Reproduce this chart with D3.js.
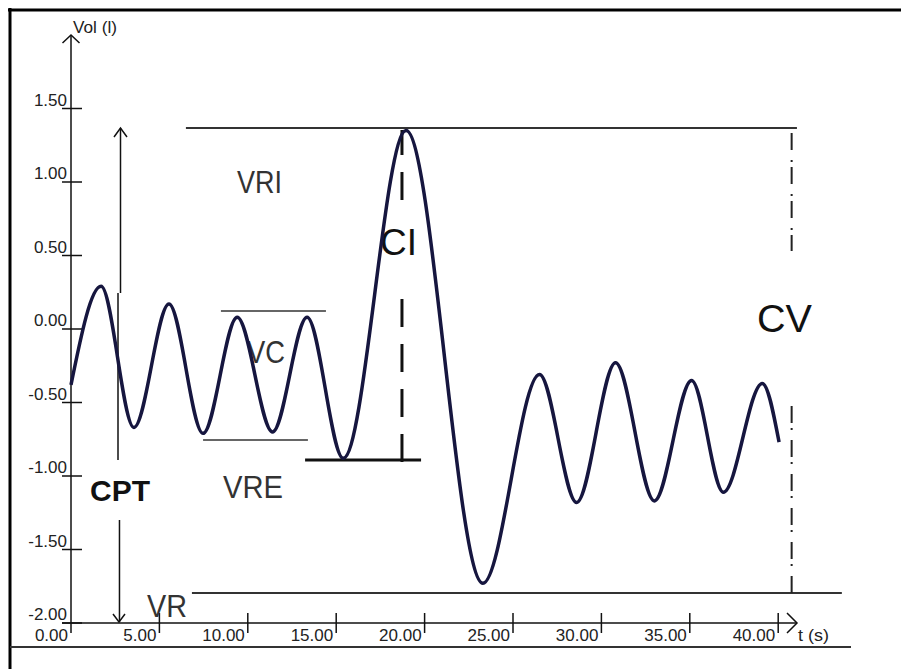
<!DOCTYPE html>
<html>
<head>
<meta charset="utf-8">
<script src="https://cdn.jsdelivr.net/npm/d3@7"></script>
<style>
  body { margin: 0; background: #fff; }
  svg { display: block; font-family: "Liberation Sans", Arial, sans-serif; }
</style>
</head>
<body>
<div id="chart"></div>
<script>
// volume trace (turning points of the wave)
const timeVals = [0, 1.7, 3.56, 5.54, 7.47, 9.4, 11.4, 13.35, 15.4, 18.95, 23.3, 26.5, 28.6, 30.8, 33.0, 35.1, 36.9, 39.1, 40.05];
const volVals  = [-0.38, 0.29, -0.67, 0.17, -0.71, 0.08, -0.70, 0.08, -0.88, 1.35, -1.73, -0.31, -1.18, -0.23, -1.17, -0.35, -1.11, -0.37, -0.77];

const xTicks = [0, 5, 10, 15, 20, 25, 30, 35, 40];
const yTicks = [1.5, 1.0, 0.5, 0.0, -0.5, -1.0, -1.5, -2.0];

// annotation levels (litres) and spans (seconds)
const levelVRI = 1.367, levelVR = -1.796, levelVC = 0.122, levelVRE = -0.755, levelCI = -0.891;
const tCPT = 2.77, tCI = 18.72, tCV = 40.76;

const width = 901, height = 669;
const svg = d3.select("#chart").append("svg")
    .attr("width", width)
    .attr("height", height);

// scales
const x = d3.scaleLinear().domain([0, 40]).range([71, 778.2]);
const y = d3.scaleLinear().domain([-2, 1.5]).range([623, 108.5]);

// frame
svg.append("line").attr("x1", 8).attr("x2", 901).attr("y1", 10).attr("y2", 10)
    .attr("stroke", "#000").attr("stroke-width", 3);
svg.append("line").attr("x1", 10).attr("x2", 10).attr("y1", 8).attr("y2", 669)
    .attr("stroke", "#000").attr("stroke-width", 3);
svg.append("line").attr("x1", 10).attr("x2", 851).attr("y1", 647).attr("y2", 647)
    .attr("stroke", "#333").attr("stroke-width", 2);

// axes (drawn by hand to mimic the old plotting program)
let axes = svg.append("g").attr("stroke", "#111").attr("stroke-width", 1.5).attr("fill", "none");
axes.append("line").attr("x1", x(0)).attr("x2", x(0)).attr("y1", 35).attr("y2", 633);
axes.append("path").attr("d", `M${x(0) - 8.5},43 L${x(0)},35 L${x(0) + 8.5},43`);
axes.append("line").attr("x1", 62).attr("x2", 797).attr("y1", y(-2)).attr("y2", y(-2));
axes.append("path").attr("d", `M787,${y(-2) - 10} L797,${y(-2)} L787,${y(-2) + 10}`);

axes.selectAll(".ytick").data(yTicks).enter().append("line")
    .attr("class", "ytick")
    .attr("x1", x(0) - 9).attr("x2", x(0) + 11)
    .attr("y1", d => y(d)).attr("y2", d => y(d));
axes.selectAll(".xtick").data(xTicks.slice(1)).enter().append("line")
    .attr("class", "xtick")
    .attr("x1", d => x(d)).attr("x2", d => x(d))
    .attr("y1", y(-2) - 10).attr("y2", y(-2) + 10);

svg.selectAll(".ylab").data(yTicks).enter().append("text")
    .attr("class", "ylab")
    .attr("x", 67).attr("y", d => y(d) - 3)
    .attr("text-anchor", "end")
    .style("font-size", "17px").attr("fill", "#222")
    .text(d => d.toFixed(2));
svg.selectAll(".xlab").data(xTicks).enter().append("text")
    .attr("class", "xlab")
    .attr("x", d => x(d) - 3).attr("y", 641)
    .attr("text-anchor", "end")
    .style("font-size", "17px").attr("fill", "#222")
    .text(d => d.toFixed(2));

svg.append("text").attr("x", 73).attr("y", 33)
    .style("font-size", "16px").attr("fill", "#222")
    .attr("textLength", 44).attr("lengthAdjust", "spacingAndGlyphs")
    .text("Vol (l)");
svg.append("text").attr("x", 798).attr("y", 641)
    .style("font-size", "17px").attr("fill", "#222")
    .attr("textLength", 31).attr("lengthAdjust", "spacingAndGlyphs")
    .text("t (s)");

// reference levels
let ref = svg.append("g").attr("fill", "none");
ref.append("line").attr("x1", x(6.5)).attr("x2", x(41.06)).attr("y1", y(levelVRI)).attr("y2", y(levelVRI))
    .attr("stroke", "#333").attr("stroke-width", 2);
ref.append("line").attr("x1", x(6.84)).attr("x2", x(43.6)).attr("y1", y(levelVR)).attr("y2", y(levelVR))
    .attr("stroke", "#333").attr("stroke-width", 2);
ref.append("line").attr("x1", x(8.48)).attr("x2", x(14.42)).attr("y1", y(levelVC)).attr("y2", y(levelVC))
    .attr("stroke", "#333").attr("stroke-width", 1.5);
ref.append("line").attr("x1", x(7.47)).attr("x2", x(13.4)).attr("y1", y(levelVRE)).attr("y2", y(levelVRE))
    .attr("stroke", "#333").attr("stroke-width", 1.5);
ref.append("line").attr("x1", x(13.24)).attr("x2", x(19.8)).attr("y1", y(levelCI)).attr("y2", y(levelCI))
    .attr("stroke", "#111").attr("stroke-width", 3);

// CPT double arrow
let cpt = svg.append("g").attr("stroke", "#111").attr("stroke-width", 1.5).attr("fill", "none");
cpt.append("line").attr("x1", 120.5).attr("x2", 120.5).attr("y1", y(levelVRI)).attr("y2", 293);
cpt.append("line").attr("x1", 118).attr("x2", 118).attr("y1", 293).attr("y2", 460);
cpt.append("line").attr("x1", x(tCPT) - 0.5).attr("x2", x(tCPT) - 0.5).attr("y1", 520).attr("y2", y(-2) - 1);
cpt.append("path").attr("d", `M114,${y(levelVRI) + 9} L120.5,${y(levelVRI)} L127,${y(levelVRI) + 9}`);
cpt.append("path").attr("d", `M113,614 L119,${y(-2) - 1} L125,614`);

// CI dashed line
let ciDash = svg.append("g").attr("stroke", "#111").attr("stroke-width", 3).attr("stroke-dasharray", "28,17");
ciDash.append("line").attr("x1", x(tCI)).attr("x2", x(tCI)).attr("y1", y(levelCI) + 2).attr("y2", 290);
ciDash.append("line").attr("x1", x(tCI)).attr("x2", x(tCI)).attr("y1", 200).attr("y2", y(levelVRI) + 2);

// CV dash-dot line
let cvDash = svg.append("g").attr("stroke", "#222").attr("stroke-width", 2).attr("stroke-dasharray", "17,10,2,5");
cvDash.append("line").attr("x1", x(tCV)).attr("x2", x(tCV)).attr("y1", 133).attr("y2", 251);
cvDash.append("line").attr("x1", x(tCV)).attr("x2", x(tCV)).attr("y1", y(levelVR)).attr("y2", 400);

// labels
const thin = [
    {t: "VRI", x: 237, y: 193, w: 45},
    {t: "VC",  x: 247, y: 363, w: 38},
    {t: "VRE", x: 223, y: 498, w: 60},
    {t: "VR",  x: 147, y: 617, w: 40}
];
svg.selectAll(".thin").data(thin).enter().append("text")
    .attr("class", "thin")
    .attr("x", d => d.x).attr("y", d => d.y)
    .attr("textLength", d => d.w).attr("lengthAdjust", "spacingAndGlyphs")
    .style("font-size", "31px").attr("fill", "#333")
    .text(d => d.t);

svg.append("text").attr("x", 90).attr("y", 501)
    .style("font-size", "30px").style("font-weight", "bold").attr("fill", "#111")
    .attr("textLength", 60).attr("lengthAdjust", "spacingAndGlyphs")
    .text("CPT");
svg.append("text").attr("x", 380).attr("y", 255)
    .style("font-size", "37px").attr("fill", "#111")
    .attr("textLength", 37).attr("lengthAdjust", "spacingAndGlyphs")
    .text("CI");
svg.append("text").attr("x", 757).attr("y", 332)
    .style("font-size", "39px").attr("fill", "#111")
    .attr("textLength", 55).attr("lengthAdjust", "spacingAndGlyphs")
    .text("CV");

// the trace
let line = d3.line()
    .x(d => x(d[0]))
    .y(d => y(d[1]))
    .curve(d3.curveMonotoneX);
svg.append("path")
    .datum(timeVals.map((t, i) => [t, volVals[i]]))
    .attr("d", line)
    .attr("fill", "none")
    .attr("stroke", "#16163f")
    .attr("stroke-width", 3.5)
    .attr("stroke-linejoin", "round");
</script>
</body>
</html>
